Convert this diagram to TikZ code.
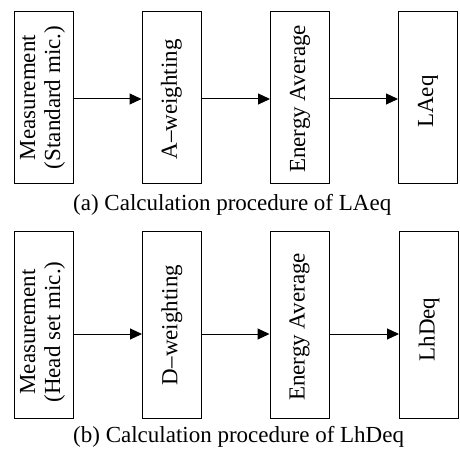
\documentclass[tikz,border=0pt]{standalone}
\usepackage{fontspec}
\setmainfont{Liberation Serif}
\usepackage{tikz}
\usetikzlibrary{arrows.meta}
\tikzset{stagebox/.style={draw=black, line width=1pt, minimum width=59pt, inner sep=0pt},stagetext/.style={rotate=90, align=center, inner sep=0pt, font=\fontsize{23}{25}\selectfont}}

\begin{document}
\begin{tikzpicture}[
        flow/.style={-{Triangle[length=12pt, width=11pt]}, line width=1pt},
        captiontext/.style={anchor=base west, inner sep=0pt, font=\fontsize{23}{24}\selectfont}
    ]
        \useasboundingbox (0pt, 0pt) rectangle (460pt, 448pt);
        % Boxes (a)
        \foreach \i/\x in {1/43.5pt, 2/171.5pt, 3/300pt, 4/428pt} {
            \node[stagebox, minimum height=171pt] (a\i) at (\x, 350.5pt) {};
        }
        % Boxes (b)
        \foreach \i/\x in {1/43.5pt, 2/172pt, 3/299.5pt, 4/429pt} {
            \node[stagebox, minimum height=187pt] (b\i) at (\x, 123.5pt) {};
        }
        % Texts (a)
        \node[stagetext] (ta1) at ([xshift=-1pt]a1.center) {Measurement\\(Standard mic.)};
        \node[stagetext] (ta2) at ([yshift=-2pt]a2.center) {A--weighting};
        \node[stagetext] (ta3) at ([yshift=-1.5pt]a3.center) {Energy Average};
        \node[stagetext] (ta4) at ([yshift=-4pt]a4.center) {LAeq};
        % Texts (b)
        \node[stagetext] (tb1) at ([xshift=-1pt, yshift=-7.5pt]b1.center) {Measurement\\(Head set mic.)};
        \node[stagetext] (tb2) at ([yshift=-0.5pt]b2.center) {D--weighting};
        \node[stagetext] (tb3) at ([yshift=-2.5pt]b3.center) {Energy Average};
        \node[stagetext] (tb4) at ([yshift=-5pt]b4.center) {LhDeq};
        % Arrows
        \foreach \i/\j in {1/2, 2/3, 3/4} {
            \draw[flow] ([yshift=-1.5pt]a\i.east) -- ([yshift=-1.5pt]a\j.west);
            \draw[flow] ([yshift=-9.5pt]b\i.east) -- ([yshift=-9.5pt]b\j.west);
        }
        % Captions
        \node[captiontext] (capa) at (73pt, 238pt) {(a) Calculation procedure of LAeq};
        \node[captiontext] (capb) at (73pt, 6pt) {(b) Calculation procedure of LhDeq};
    \end{tikzpicture}
\end{document}
